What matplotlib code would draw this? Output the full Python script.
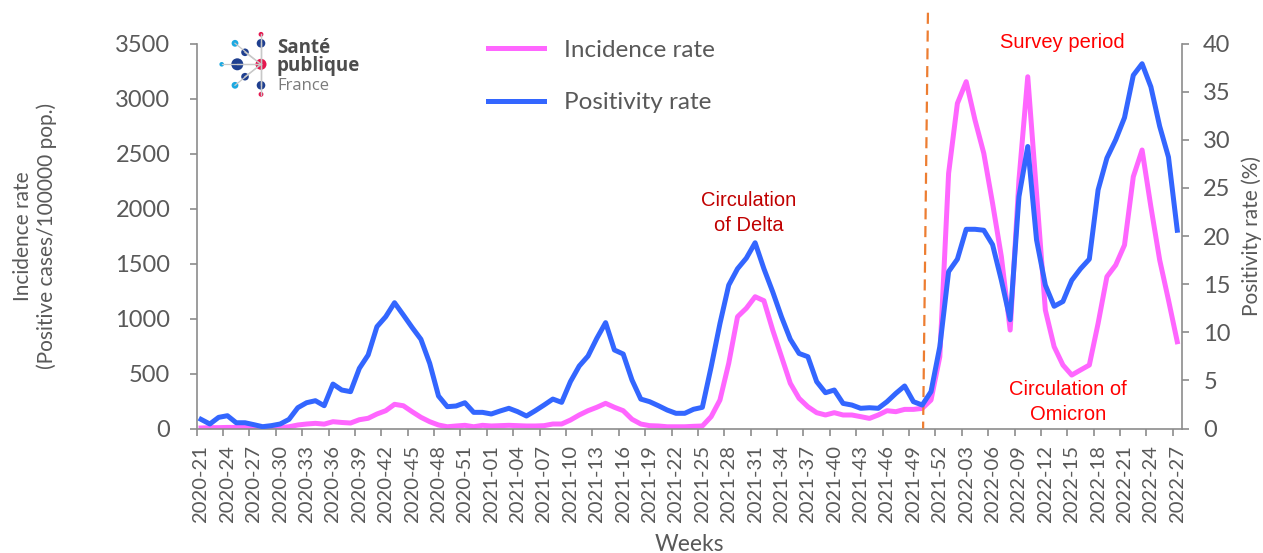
import numpy as np
import matplotlib.pyplot as plt
from matplotlib.patches import Circle

weeks = ([f"2020-{w:02d}" for w in range(21, 54)]
         + [f"2021-{w:02d}" for w in range(1, 53)]
         + [f"2022-{w:02d}" for w in range(1, 28)])

# incidence rate (positive cases / 100000 pop.), one value per week
incidence = [5, 8, 8, 10, 10, 10, 8, 5, 5, 8,
             16, 32, 41, 47, 40, 62, 55, 50, 80, 93,
             132, 162, 220, 207, 153, 102, 62, 32, 16, 23,
             29, 16, 29, 23, 26, 29, 26, 23, 23, 26,
             41, 41, 77, 123, 162, 193, 229, 193, 162, 84,
             41, 26, 23, 16, 16, 16, 20, 23, 108, 259,
             593, 1016, 1093, 1198, 1162, 895, 653, 411, 274, 198,
             144, 123, 144, 123, 123, 108, 92, 123, 162, 153,
             174, 174, 183, 259, 653, 2320, 2956, 3153, 2805, 2502,
             2047, 1562, 895, 2260, 3198, 2138, 1077, 744, 577, 486,
             532, 577, 956, 1380, 1486, 1668, 2289, 2532, 2016, 1532,
             1168, 789]

# positivity rate (%)
positivity = [0.95, 0.47, 1.16, 1.33, 0.6, 0.6, 0.4, 0.19, 0.3, 0.47,
              0.95, 2.16, 2.68, 2.89, 2.37, 4.62, 4.0, 3.83, 6.25, 7.64,
              10.58, 11.62, 13.07, 11.8, 10.5, 9.27, 6.77, 3.38, 2.27, 2.34,
              2.68, 1.68, 1.68, 1.51, 1.82, 2.1, 1.75, 1.3, 1.85, 2.44,
              3.06, 2.72, 4.87, 6.49, 7.53, 9.37, 11.0, 8.16, 7.74, 5.04,
              3.06, 2.79, 2.37, 1.92, 1.58, 1.58, 2.0, 2.2, 6.4, 10.9,
              14.9, 16.6, 17.7, 19.3, 16.6, 14.2, 11.6, 9.27, 7.8, 7.46,
              4.87, 3.72, 4.0, 2.61, 2.44, 2.1, 2.16, 2.1, 2.79, 3.65,
              4.42, 2.79, 2.44, 3.83, 8.5, 16.3, 17.6, 20.7, 20.7, 20.6,
              19.1, 15.4, 11.3, 24.1, 29.3, 19.6, 14.9, 12.7, 13.2, 15.4,
              16.6, 17.6, 24.8, 28.1, 30.0, 32.3, 36.7, 37.9, 35.5, 31.4,
              28.2, 20.6]

survey_start = 82.3  # week index of the dashed marker (around 2021-50)

pink = "#FF66FF"
blue = "#3366FF"
grey = "#595959"
axis_grey = "#8C8C8C"

plt.rcParams["font.family"] = ["Lato", "DejaVu Sans"]

fig = plt.figure(figsize=(12.63, 5.53), dpi=100)
ax = fig.add_axes([0.1557, 0.2251, 0.7799, 0.6962])
ax2 = ax.twinx()

x = np.arange(len(weeks))
ax.set_xlim(-0.5, len(weeks) - 0.5)
ax.set_ylim(0, 3500)
ax2.set_ylim(0, 40)

ax.plot(x, incidence, color=pink, lw=3.6, solid_joinstyle="round",
        label="Incidence rate")
ax2.plot([survey_start + 0.35, survey_start - 0.2], [43.2, 0], color="#ED7D31",
         lw=1.6, dashes=(5, 3), clip_on=False, zorder=1)
ax2.plot(x, positivity, color=blue, lw=3.6, solid_joinstyle="round",
         label="Positivity rate", zorder=3)

# axes styling
for a in (ax, ax2):
    a.spines["top"].set_visible(False)
    for s in a.spines.values():
        s.set_color(axis_grey)
        s.set_linewidth(1.2)
ax.spines["right"].set_visible(False)
ax2.spines["left"].set_visible(False)
ax2.spines["bottom"].set_visible(False)

ax.set_yticks(np.arange(0, 3501, 500))
ax2.set_yticks(np.arange(0, 41, 5))
ax.tick_params(axis="y", length=5, width=1.2, color=axis_grey,
               labelcolor=grey, labelsize=17, pad=14)
ax2.tick_params(axis="y", length=5, width=1.2, color=axis_grey,
                labelcolor=grey, labelsize=17, pad=10.5)

ax.set_xticks(x[::3])
ax.set_xticklabels(weeks[::3], rotation=90)
ax.set_xticks(np.arange(-0.5, len(weeks) - 1, 3), minor=True)
ax.tick_params(axis="x", which="major", length=0, labelcolor=grey,
               labelsize=14.6, pad=12)
ax.tick_params(axis="x", which="minor", length=5, width=1.2, color=axis_grey)

ax.set_xlabel("Weeks", fontsize=16.5, color=grey, labelpad=8)
ax.set_ylabel("Incidence rate\n(Positive cases/100000 pop.)", fontsize=15,
              color=grey)
ax.yaxis.set_label_coords(-0.1418, 0.5)
ax2.set_ylabel("Positivity rate (%)", fontsize=15, color=grey)
ax2.yaxis.set_label_coords(1.061, 0.5)

# annotations
txt = dict(family=["Liberation Sans", "DejaVu Sans"], ha="center", va="center")
ax.text(97.9, 3505, "Survey period", color="#FF0000", fontsize=14.5, **txt)
ax.text(62.3, 1959, "Circulation\nof Delta", color="#C00000", fontsize=14.5,
        linespacing=1.45, **txt)
ax.text(98.6, 241, "Circulation of\nOmicron", color="#FF0000", fontsize=14.5,
        linespacing=1.45, **txt)

handles = ax.get_lines()[:1] + ax2.get_lines()[1:]
ax2.legend(handles, [h.get_label() for h in handles], loc="upper left",
           bbox_to_anchor=(0.3785, 0.946), bbox_transform=fig.transFigure,
           frameon=False, fontsize=17.5, handlelength=2.3, handletextpad=0.85,
           labelspacing=1.3, borderaxespad=0, labelcolor=grey)

# Santé publique France logo (pixel coordinates overlay)
lg = fig.add_axes([0, 0, 1, 1], zorder=5)
lg.set_xlim(0, 1263)
lg.set_ylim(553, 0)
lg.axis("off")
navy, red, cyan = "#1F3F8F", "#E5174F", "#1CA9E1"
dots = [(261, 34.3, 2.4, red), (261, 43.3, 4.3, navy), (235, 43.3, 3.4, cyan),
        (245, 52.3, 3.8, navy), (221.7, 64.3, 2.3, cyan), (237.3, 64.3, 6, navy),
        (261, 64.3, 5.5, red), (245, 76.7, 3.8, navy), (235, 85.3, 3.4, cyan),
        (261, 85.3, 4.3, navy), (261, 94.3, 2.4, red)]
lg.plot([261, 261], [34, 94.5], color="#C8C8C8", lw=0.9)
for dx, dy, r, c in dots:
    lg.plot([261, dx], [64.3, dy], color="#C8C8C8", lw=0.9)
for dx, dy, r, c in dots:
    lg.add_patch(Circle((dx, dy), r, color=c, lw=0))
lg.text(277, 70.5, "Santé\npublique", family="Open Sans", weight="bold",
        fontsize=13.5, color="#4D4D4D", va="baseline", linespacing=0.82)
lg.text(277, 90, "France", family="Open Sans", fontsize=12,
        color="#7A7A7A", va="baseline")

fig.savefig("out.png", dpi=100)
